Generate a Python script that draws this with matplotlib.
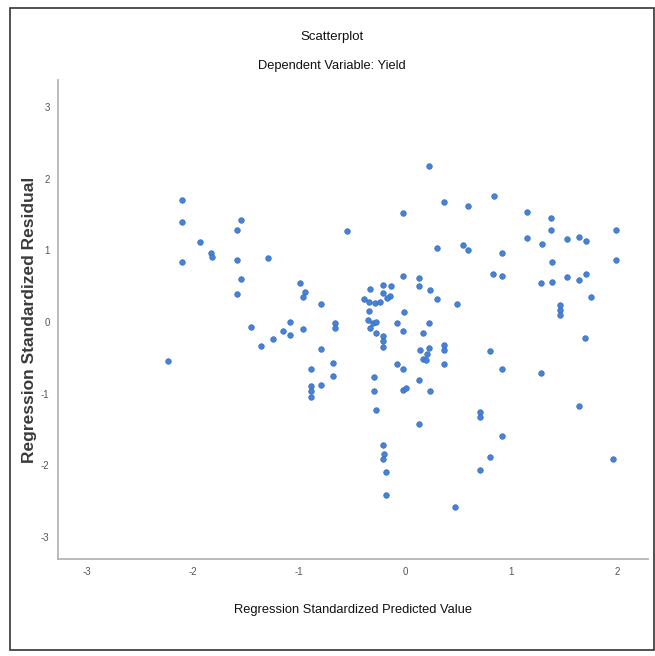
import matplotlib

matplotlib.use("Agg")
import matplotlib.pyplot as plt
from matplotlib.patches import Rectangle

# standardized predicted value (x) and standardized residual (y)
pred = [
    -2.23, -2.10, -2.10, -2.10, -1.93, -1.83, -1.82, -1.55, -1.58, -1.58,
    -1.55, -1.58, -1.29, -1.45, -1.36, -1.24, -1.15, -1.08, -1.08, -0.96,
    -0.99, -0.94, -0.96, -0.79, -0.89, -0.89, -0.89, -0.89, -0.79, -0.79,
    -0.68, -0.68, -0.66, -0.66, -0.55,
    -0.02, 0.23, 0.37, 0.59, 0.30, 0.55, 0.59, -0.02, 0.13, 0.13,
    0.24, 0.30, 0.49, -0.01, -0.33, -0.21, -0.13, -0.21, -0.14, -0.39,
    -0.34, -0.28, -0.24, -0.17, -0.34, -0.35, -0.30, -0.27, -0.08, 0.23,
    -0.33, -0.27, -0.02, 0.17, -0.21, -0.21, -0.21, 0.14, 0.23, 0.21,
    0.17, 0.20, 0.37, 0.37, 0.37, -0.08, -0.02, -0.29, -0.29, -0.27,
    -0.02, 0.01, 0.13, 0.24, 0.13, -0.21, -0.20, -0.21, -0.18, -0.18,
    0.47,
    0.84, 1.15, 1.38, 1.38, 1.15, 1.29, 1.53, 1.64, 1.71, 1.99,
    1.99, 0.91, 0.83, 0.91, 1.39, 1.28, 1.39, 1.53, 1.64, 1.71,
    1.75, 1.46, 1.46, 1.46, 1.70, 0.80, 0.91, 1.28, 1.64, 0.71,
    0.71, 0.91, 0.80, 0.71, 1.96,
]
resid = [
    -0.55, 1.70, 1.40, 0.84, 1.12, 0.97, 0.91, 1.43, 1.28, 0.86,
    0.60, 0.39, 0.90, -0.07, -0.34, -0.24, -0.12, 0.00, -0.18, -0.10,
    0.55, 0.42, 0.35, 0.25, -0.65, -0.90, -0.97, -1.05, -0.38, -0.88,
    -0.57, -0.76, -0.02, -0.09, 1.27,
    1.52, 2.18, 1.67, 1.62, 1.03, 1.08, 1.00, 0.64, 0.62, 0.50,
    0.45, 0.32, 0.25, 0.14, 0.46, 0.52, 0.50, 0.40, 0.36, 0.32,
    0.28, 0.26, 0.28, 0.33, 0.16, 0.03, -0.02, 0.00, -0.01, -0.02,
    -0.09, -0.16, -0.13, -0.16, -0.20, -0.27, -0.35, -0.39, -0.37, -0.44,
    -0.51, -0.53, -0.32, -0.39, -0.58, -0.58, -0.65, -0.77, -0.96, -1.23,
    -0.95, -0.92, -0.81, -0.97, -1.42, -1.72, -1.85, -1.92, -2.10, -2.41,
    -2.58,
    1.76, 1.54, 1.45, 1.28, 1.17, 1.09, 1.16, 1.19, 1.13, 1.29,
    0.86, 0.96, 0.67, 0.64, 0.84, 0.54, 0.56, 0.63, 0.58, 0.67,
    0.35, 0.24, 0.17, 0.10, -0.23, -0.40, -0.66, -0.71, -1.17, -1.25,
    -1.32, -1.59, -1.89, -2.06, -1.92,
]
x_ticks = [-3, -2, -1, 0, 1, 2]
y_ticks = [-3, -2, -1, 0, 1, 2, 3]

plt.rcParams["axes.unicode_minus"] = False
font = ["Liberation Sans", "DejaVu Sans"]

fig = plt.figure(figsize=(6.55, 6.56), dpi=100)
fig.patches.append(Rectangle((10 / 655, 6 / 656), 644 / 655, 642 / 656,
                             transform=fig.transFigure, fill=False,
                             edgecolor="#333333", linewidth=1.2))

ax = fig.add_axes([58 / 655, 97 / 656, 590 / 655, 479 / 656])
ax.scatter(pred, resid, s=16, color="#4582d8", edgecolors="#3a6cb8", linewidths=0.5, zorder=3)

ax.set_xlim(-3.27, 2.29)
ax.set_ylim(-3.31, 3.38)
ax.set_xticks(x_ticks)
ax.set_yticks(y_ticks)
ax.tick_params(length=0, labelsize=7, labelcolor="#555555", pad=6)
for lbl in ax.get_xticklabels() + ax.get_yticklabels():
    lbl.set_family(font)
for side in ["top", "right"]:
    ax.spines[side].set_visible(False)
for side in ["left", "bottom"]:
    ax.spines[side].set_color("#b5b5b5")
    ax.spines[side].set_linewidth(1.3)

fig.text(332 / 655, 1 - 37 / 656, "Scatterplot", ha="center", va="center",
         fontsize=9.5, family=font, color="#111111")
fig.text(332 / 655, 1 - 66 / 656, "Dependent Variable: Yield", ha="center", va="center",
         fontsize=9.3, family=font, color="#111111")
fig.text(353 / 655, 1 - 610 / 656, "Regression Standardized Predicted Value", ha="center",
         va="center", fontsize=9.3, family=font, color="#111111")
fig.text(30 / 655, 1 - 320 / 656, "Regression Standardized Residual", ha="center",
         va="center", rotation=90, fontsize=12.5, fontweight="bold",
         family=font, color="#3a3a3a")

fig.savefig("out.png", dpi=100)
